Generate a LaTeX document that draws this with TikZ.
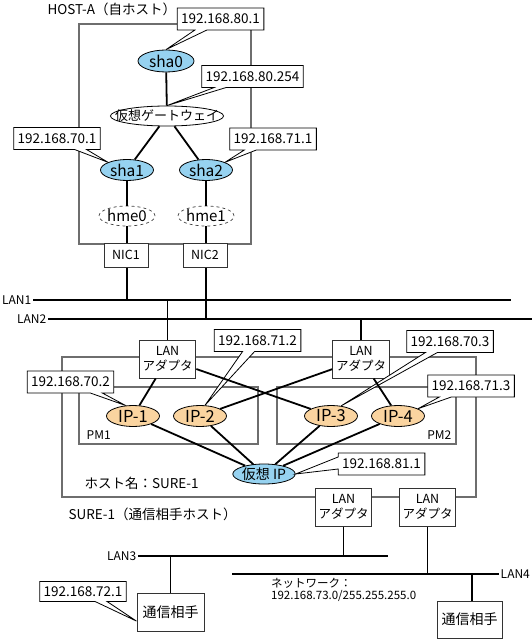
\documentclass[tikz,border=0pt]{standalone}
\usepackage{fontspec}
\setmainfont{Noto Sans CJK JP}
\usetikzlibrary{shapes.geometric,shapes.callouts,positioning}
\definecolor{shablue}{RGB}{150,210,240}
\definecolor{iporange}{RGB}{250,212,160}
\definecolor{framegray}{RGB}{110,110,110}
\begin{document}
\begin{tikzpicture}[x=1pt,y=-1pt,
  hostframe/.style={draw=framegray, line width=1.2pt},
  net/.style={line width=1.8pt},
  addr/.style={rectangle callout, draw, fill=white, line width=0.8pt, minimum height=22, inner xsep=4, callout pointer width=12, font=\fontsize{13.5}{15}\selectfont},
  ifc/.style={ellipse, draw, line width=0.8pt, fill=shablue, inner sep=0pt, minimum width=54, minimum height=21, font=\fontsize{15.5}{17}\selectfont},
  hme/.style={ellipse, draw=black!75, line width=0.7pt, dashed, fill=white, inner sep=0pt, minimum width=53, minimum height=20, font=\fontsize{15}{17}\selectfont},
  ipadr/.style={ellipse, draw, line width=0.8pt, fill=iporange, inner sep=0pt, minimum width=53, minimum height=21, font=\fontsize{16.5}{18}\selectfont},
  card/.style={draw=black!80, fill=white, line width=1pt, align=center, font=\fontsize{12.5}{15}\selectfont},
  peer/.style={draw=black!80, fill=white, line width=1pt, font=\fontsize{14}{16}\selectfont},
  txt/.style={font=\fontsize{13.5}{15}\selectfont},
  lanlbl/.style={inner sep=1.5pt, font=\fontsize{12}{14}\selectfont}]
\useasboundingbox (0,0) rectangle (532,639);
\fill[white] (0,0) rectangle (532,639);

\draw[hostframe] (79,24) rectangle (251,244);
\draw[hostframe] (62,357) rectangle (476,497);
\draw[hostframe] (79,387) rectangle (258,444);
\draw[hostframe] (277,387) rectangle (456,444);

\node[txt, anchor=west] (hosta) at (44,9) {HOST-A（自ホスト）};
\node[ifc, minimum width=56, minimum height=22] (sha0) at (166,61) {sha0};
\node[ellipse, draw, line width=0.8pt, fill=white, inner xsep=-12pt, inner ysep=0pt, minimum width=110, minimum height=20, font=\fontsize{13}{15}\selectfont] (gw) at (167,116) {仮想ゲートウェイ};
\node[ifc, minimum width=53] (sha1) at (127,170) {sha1};
\node[ifc, minimum width=53] (sha2) at (206,170) {sha2};
\node[hme] (hme0) at (127,216) {hme0};
\node[hme] (hme1) at (206,216) {hme1};
\node[card, minimum width=44, minimum height=24] (nic1) at (126,255) {NIC1};
\node[card, minimum width=44, minimum height=24] (nic2) at (205,255) {NIC2};

\node[addr, callout absolute pointer={(sha0.north)}] (a801) at (220.5,19) {192.168.80.1};
\node[addr, callout absolute pointer={(gw.north)}] (a80254) at (252.5,76.5) {192.168.80.254};
\node[addr, callout absolute pointer={(sha1.north west)}] (a701) at (57,138.5) {192.168.70.1};
\node[addr, callout absolute pointer={(sha2.north east)}] (a711) at (273,139) {192.168.71.1};

\node[lanlbl, anchor=east] (lan1) at (33,300) {LAN1};
\node[lanlbl, anchor=east] (lan2) at (48,319) {LAN2};
\coordinate (lan1e) at (511,300);
\coordinate (lan2e) at (532,319);

\node[card, minimum width=53, minimum height=38] (ad1) at (167.5,359) {LAN\\アダプタ};
\node[card, minimum width=53, minimum height=38] (ad2) at (361,359) {LAN\\アダプタ};
\node[ipadr] (ip1) at (133,416) {IP-1};
\node[ipadr] (ip2) at (200,416) {IP-2};
\node[ipadr] (ip3) at (331,416) {IP-3};
\node[ipadr] (ip4) at (398,416) {IP-4};
\node[ellipse, draw, line width=0.8pt, fill=shablue, inner sep=0pt, minimum width=58, minimum height=20, font=\fontsize{14}{16}\selectfont] (vip) at (264,474) {仮想 IP};
\node[lanlbl, anchor=west] (pm1) at (85,435) {PM1};
\node[lanlbl, anchor=east] (pm2) at (453,435) {PM2};

\node[addr, callout absolute pointer={(ip1.125)}] (a702) at (70.5,382) {192.168.70.2};
\node[addr, callout absolute pointer={(ip2.65)}] (a712) at (257.5,340.5) {192.168.71.2};
\node[addr, callout absolute pointer={(ip3.45)}] (a703) at (450,341.5) {192.168.70.3};
\node[addr, callout absolute pointer={(ip4.20)}] (a713) at (471,386) {192.168.71.3};
\node[addr, callout absolute pointer={(vip.east)}] (a811) at (381.5,464) {192.168.81.1};

\node[txt, anchor=west] (hname) at (81,483) {ホスト名：SURE-1};
\node[txt, anchor=west] (sure) at (65,514) {SURE-1（通信相手ホスト）};
\node[card, minimum width=53, minimum height=38] (ad3) at (343.5,507) {LAN\\アダプタ};
\node[card, minimum width=53, minimum height=38] (ad4) at (427.5,507) {LAN\\アダプタ};

\node[lanlbl, anchor=east] (lan3) at (138,556) {LAN3};
\coordinate (lan3e) at (388,556);
\coordinate (lan4w) at (232,574);
\node[lanlbl, anchor=west] (lan4) at (499,574) {LAN4};
\node[anchor=north west, align=left, inner sep=0pt, font=\fontsize{11.5}{12.5}\selectfont] (nwk) at (271,578) {ネットワーク：\\192.168.73.0/255.255.255.0};

\node[peer, minimum width=67, minimum height=38] (com1) at (170.5,612) {通信相手};
\node[peer, minimum width=65, minimum height=37] (com2) at (469.5,619.5) {通信相手};
\node[addr, minimum height=20, callout absolute pointer={(com1.195)}] (a721) at (83,591.5) {192.168.72.1};

\draw[net] (sha0) -- (gw);
\draw[net] (gw) -- (sha1);
\draw[net] (gw) -- (sha2);
\draw[net] (sha1) -- (hme0);
\draw[net] (sha2) -- (hme1);
\draw[net] (hme0) -- (hme0 |- nic1.north);
\draw[net] (hme1) -- (hme1 |- nic2.north);
\draw[net] (lan1) -- (lan1e);
\draw[net] (lan2) -- (lan2e);
\draw[net] (hme0 |- nic1.south) -- (hme0 |- lan1e);
\draw[net] (hme1 |- nic2.south) -- (hme1 |- lan2e);
\draw[net] (ad1) -- (ad1 |- lan1e);
\draw[net] (ad2) -- (ad2 |- lan2e);
\draw[net] (ad1) -- (ip1);
\draw[net] (ad1) -- (ip3);
\draw[net] (ad2) -- (ip2);
\draw[net] (ad2) -- (ip4);
\draw[net] (ip1) -- (vip);
\draw[net] (ip2) -- (vip);
\draw[net] (ip3) -- (vip);
\draw[net] (ip4) -- (vip);
\draw[net] (lan3) -- (lan3e);
\draw[net] (lan4w) -- (lan4);
\draw[net] (ad3) -- (ad3 |- lan3e);
\draw[net] (ad4) -- (ad4 |- lan4w);
\draw[net] (com1) -- (com1 |- lan3e);
\draw[net] (com2.north -| 472,0) -- (472,574);
\end{tikzpicture}
\end{document}
